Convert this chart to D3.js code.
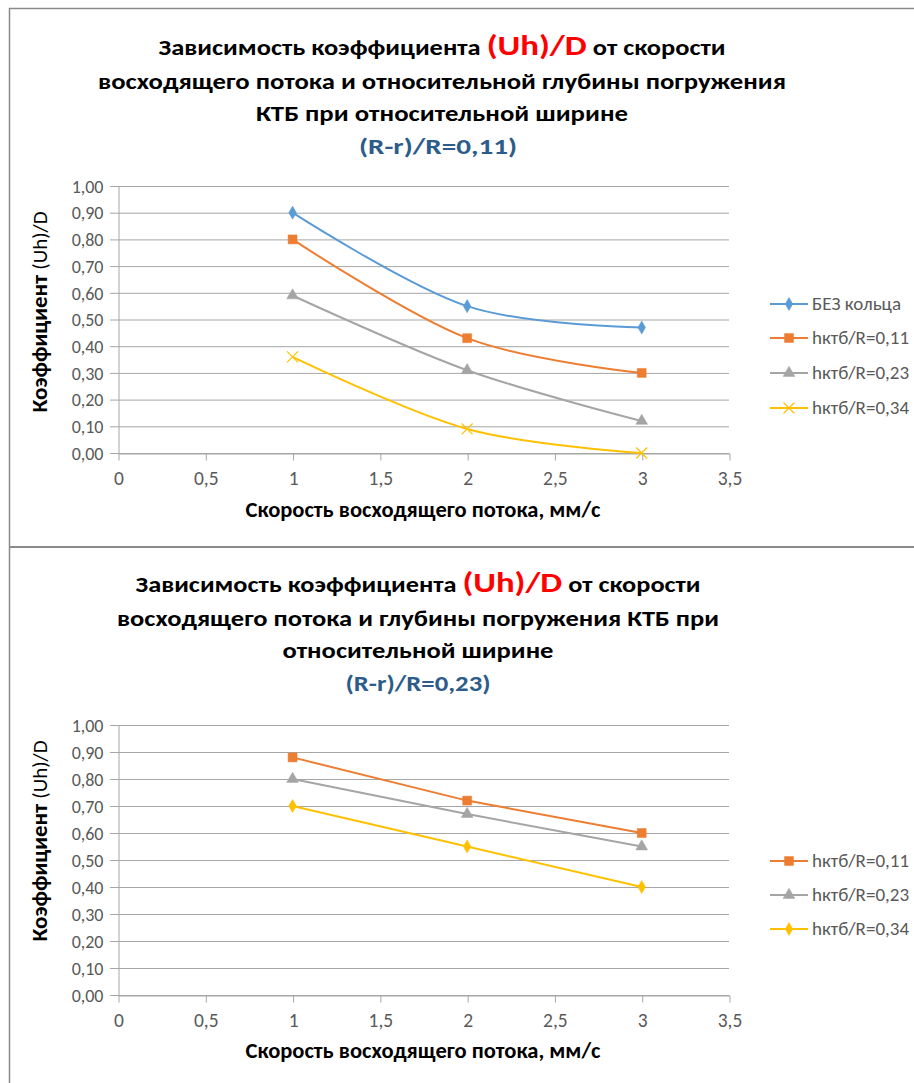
<!DOCTYPE html>
<html>
<head>
<meta charset="utf-8">
<script src="https://cdn.jsdelivr.net/npm/d3@7"></script>
<style>
  body { margin: 0; background: #fff; }
  svg { display: block; font-family: Carlito, Calibri, "Open Sans", sans-serif; }
</style>
</head>
<body>
<div id="chart"></div>
<script>
// data
const xValues = [1, 2, 3];
const xTicks = [0, 0.5, 1, 1.5, 2, 2.5, 3, 3.5];
const yTicks = [0, 0.1, 0.2, 0.3, 0.4, 0.5, 0.6, 0.7, 0.8, 0.9, 1.0];

const seriesNamesTop = ["БЕЗ кольца", "hктб/R=0,11", "hктб/R=0,23", "hктб/R=0,34"];
const bezKoltsa = [0.90, 0.55, 0.47];
const h011Top = [0.80, 0.43, 0.30];
const h023Top = [0.59, 0.31, 0.12];
const h034Top = [0.36, 0.09, 0.00];

const seriesNamesBottom = ["hктб/R=0,11", "hктб/R=0,23", "hктб/R=0,34"];
const h011Bottom = [0.88, 0.72, 0.60];
const h023Bottom = [0.80, 0.67, 0.55];
const h034Bottom = [0.70, 0.55, 0.40];

const titleTop = ["Зависимость коэффициента (Uh)/D от скорости",
                  "восходящего потока и относительной глубины погружения",
                  "КТБ при относительной ширине"];
const subtitleTop = "(R-r)/R=0,11)";
const titleBottom = ["Зависимость коэффициента (Uh)/D от скорости",
                     "восходящего потока и глубины погружения КТБ при",
                     "относительной ширине"];
const subtitleBottom = "(R-r)/R=0,23)";

const yTitle = ["Коэффициент ", "(Uh)/D"];
const xTitle = "Скорость восходящего потока, мм/с";

const blue = "#5b9bd5", orange = "#ed7d31", gray = "#a5a5a5", yellow = "#ffc000";

const width = 914, height = 1083;

const svg = d3.select("#chart").append("svg")
    .attr("width", width)
    .attr("height", height);

// frame lines
svg.append("line").attr("x1", 9).attr("x2", width).attr("y1", 8.5).attr("y2", 8.5)
    .attr("stroke", "#8a8a8a").attr("stroke-width", 1.5);
svg.append("line").attr("x1", 9.5).attr("x2", 9.5).attr("y1", 8).attr("y2", height)
    .attr("stroke", "#8a8a8a").attr("stroke-width", 1.5);
svg.append("line").attr("x1", 9).attr("x2", width).attr("y1", 547).attr("y2", 547)
    .attr("stroke", "#8a8a8a").attr("stroke-width", 2);

const fmtY = d => d3.format(".2f")(d).replace(".", ",");
const fmtX = d => String(d).replace(".", ",");

function drawChart(cfg) {
    const g = svg.append("g");

    const x = d3.scaleLinear().domain([0, 3.5]).range([118, 729]);
    const y = d3.scaleLinear().domain([0, 1]).range([cfg.bottom, cfg.top]);

    // title
    cfg.title.forEach((line, i) => {
        const t = g.append("text")
            .attr("x", cfg.titleX)
            .attr("y", cfg.titleY[i])
            .attr("text-anchor", "middle")
            .attr("font-weight", "bold")
            .attr("font-size", 22)
            .attr("fill", "#000")
            .attr("textLength", cfg.titleW[i])
            .attr("lengthAdjust", "spacingAndGlyphs");
        const parts = line.split("(Uh)/D");
        if (parts.length > 1) {
            t.append("tspan").text(parts[0]);
            t.append("tspan").attr("fill", "#ff0000").attr("font-size", 29).text("(Uh)/D");
            t.append("tspan").text(parts[1]);
        } else {
            t.text(line);
        }
    });
    g.append("text")
        .attr("x", cfg.subX)
        .attr("y", cfg.titleY[3])
        .attr("text-anchor", "middle")
        .attr("font-weight", "bold")
        .attr("font-size", 22)
        .attr("fill", "#2e5c8a")
        .attr("textLength", cfg.titleW[3])
        .attr("lengthAdjust", "spacingAndGlyphs")
        .text(cfg.subtitle);

    // gridlines with the little tick stubs on the left
    g.selectAll(".grid")
        .data(yTicks)
        .enter().append("line")
        .attr("x1", 110)
        .attr("x2", x(3.5))
        .attr("y1", d => y(d) + 0.5)
        .attr("y2", d => y(d) + 0.5)
        .attr("stroke", "#a6a6a6")
        .attr("stroke-width", 1);

    // y axis
    const yAxis = d3.axisLeft(y).tickValues(yTicks).tickFormat(fmtY).tickSize(0).tickPadding(15);
    const ya = g.append("g").attr("transform", "translate(118.5,0.5)").call(yAxis);
    ya.select(".domain").attr("stroke", "#a6a6a6");
    ya.selectAll("text").attr("font-size", 18).attr("fill", "#595959")
        .attr("font-family", "Carlito, Calibri, 'Open Sans', sans-serif");

    // x axis
    const xAxis = d3.axisBottom(x).tickValues(xTicks).tickFormat(fmtX).tickSize(7).tickSizeOuter(0).tickPadding(11);
    const xa = g.append("g").attr("transform", `translate(0.5,${cfg.bottom + 0.5})`).call(xAxis);
    xa.select(".domain").attr("stroke", "#a6a6a6");
    xa.selectAll(".tick line").attr("stroke", "#a6a6a6");
    xa.selectAll("text").attr("font-size", 19.5).attr("fill", "#595959")
        .attr("font-family", "Carlito, Calibri, 'Open Sans', sans-serif");

    // axis titles
    const yt = g.append("text")
        .attr("transform", `translate(47,${cfg.yTitleY}) rotate(-90)`)
        .attr("text-anchor", "middle")
        .attr("font-size", 23)
        .attr("fill", "#000");
    yt.append("tspan").attr("font-weight", "bold").text(yTitle[0]);
    yt.append("tspan").attr("font-size", 21).text(yTitle[1]);

    g.append("text")
        .attr("x", 423)
        .attr("y", cfg.xTitleY)
        .attr("text-anchor", "middle")
        .attr("font-weight", "bold")
        .attr("font-size", 22.5)
        .attr("fill", "#000")
        .text(xTitle);

    // series
    const line = d3.line()
        .x((d, i) => x(xValues[i]))
        .y(d => y(d))
        .curve(cfg.curve);

    cfg.series.forEach((s, k) => {
        g.append("path")
            .datum(s.values)
            .attr("d", line)
            .attr("fill", "none")
            .attr("stroke", s.color)
            .attr("stroke-width", 2);

        g.selectAll(".m" + k)
            .data(s.values)
            .enter().append("path")
            .attr("transform", (d, i) => `translate(${x(xValues[i])},${y(d)})`)
            .each(function () { styleMarker(d3.select(this), s); });

        // legend
        const ly = cfg.legendY[k];
        g.append("line")
            .attr("x1", 770).attr("x2", 808)
            .attr("y1", ly).attr("y2", ly)
            .attr("stroke", s.color).attr("stroke-width", 2);
        styleMarker(g.append("path").attr("transform", `translate(789,${ly})`), s);
        g.append("text")
            .attr("x", 812)
            .attr("y", ly + 6)
            .attr("font-size", 19)
            .attr("fill", "#595959")
            .text(s.name);
    });
}

function styleMarker(sel, s) {
    if (s.marker === "x") {
        sel.attr("d", d3.symbol().type(d3.symbolX).size(80)())
            .attr("fill", "none").attr("stroke", s.color).attr("stroke-width", 1.2);
    } else {
        const types = { diamond: d3.symbolDiamond, square: d3.symbolSquare, triangle: d3.symbolTriangle };
        const sizes = { diamond: 50, square: 80, triangle: 60 };
        sel.attr("d", d3.symbol().type(types[s.marker]).size(sizes[s.marker])())
            .attr("fill", s.color).attr("stroke", s.color).attr("stroke-width", 0.5);
    }
}

drawChart({
    top: 186, bottom: 453,
    title: titleTop, subtitle: subtitleTop,
    titleX: 442, subX: 438,
    titleY: [55, 89, 121, 154],
    titleW: [567, 688, 372, 158],
    yTitleY: 312, xTitleY: 517,
    curve: d3.curveCardinal.tension(0),
    legendY: [304, 338, 373, 408],
    series: [
        { name: seriesNamesTop[0], values: bezKoltsa, color: blue, marker: "diamond" },
        { name: seriesNamesTop[1], values: h011Top, color: orange, marker: "square" },
        { name: seriesNamesTop[2], values: h023Top, color: gray, marker: "triangle" },
        { name: seriesNamesTop[3], values: h034Top, color: yellow, marker: "x" }
    ]
});

drawChart({
    top: 725, bottom: 995,
    title: titleBottom, subtitle: subtitleBottom,
    titleX: 418, subX: 418,
    titleY: [592, 626, 658, 691],
    titleW: [565, 602, 271, 145],
    yTitleY: 841, xTitleY: 1058,
    curve: d3.curveLinear,
    legendY: [861, 895, 929],
    series: [
        { name: seriesNamesBottom[0], values: h011Bottom, color: orange, marker: "square" },
        { name: seriesNamesBottom[1], values: h023Bottom, color: gray, marker: "triangle" },
        { name: seriesNamesBottom[2], values: h034Bottom, color: yellow, marker: "diamond" }
    ]
});
</script>
</body>
</html>
